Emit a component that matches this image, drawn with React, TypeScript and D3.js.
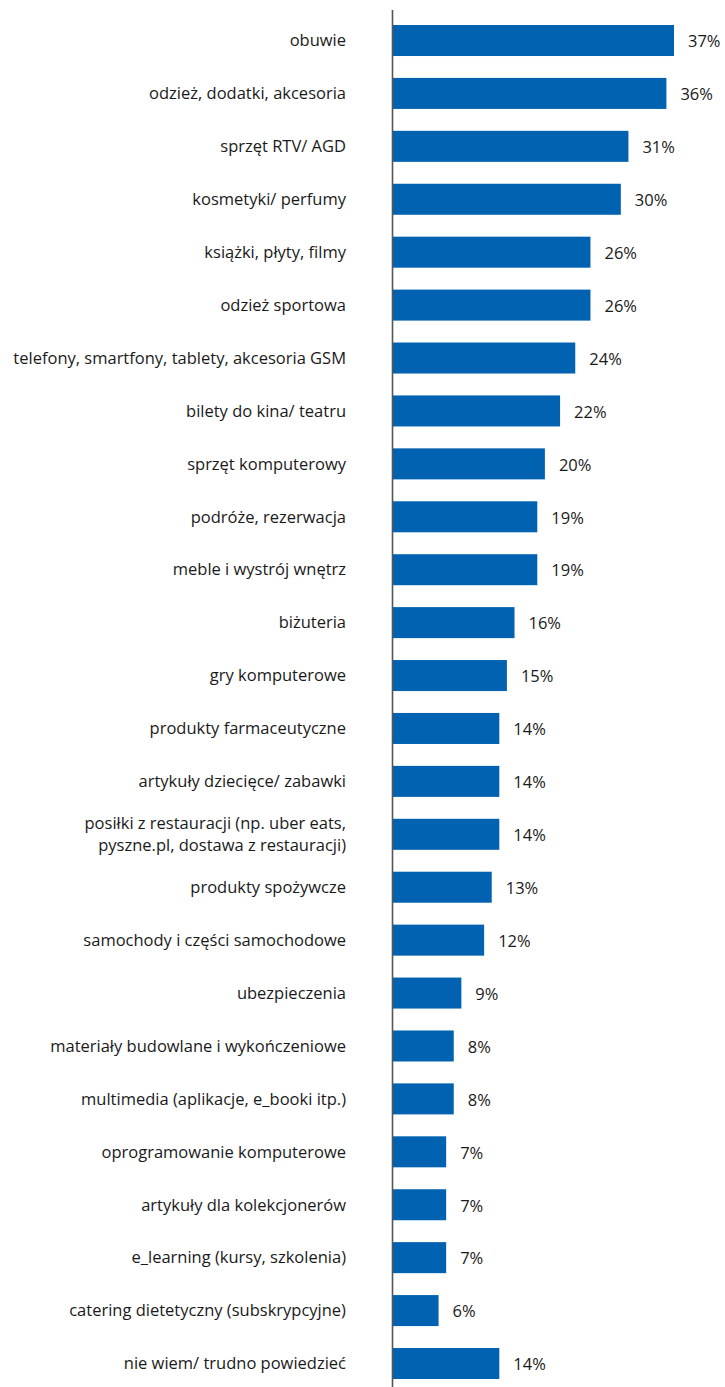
import { useRef, useEffect } from "react";
import * as d3 from "d3";

const categories = [
  "obuwie",
  "odzież, dodatki, akcesoria",
  "sprzęt RTV/ AGD",
  "kosmetyki/ perfumy",
  "książki, płyty, filmy",
  "odzież sportowa",
  "telefony, smartfony, tablety, akcesoria GSM",
  "bilety do kina/ teatru",
  "sprzęt komputerowy",
  "podróże, rezerwacja",
  "meble i wystrój wnętrz",
  "biżuteria",
  "gry komputerowe",
  "produkty farmaceutyczne",
  "artykuły dziecięce/ zabawki",
  "posiłki z restauracji (np. uber eats,\npyszne.pl, dostawa z restauracji)",
  "produkty spożywcze",
  "samochody i części samochodowe",
  "ubezpieczenia",
  "materiały budowlane i wykończeniowe",
  "multimedia (aplikacje, e_booki itp.)",
  "oprogramowanie komputerowe",
  "artykuły dla kolekcjonerów",
  "e_learning (kursy, szkolenia)",
  "catering dietetyczny (subskrypcyjne)",
  "nie wiem/ trudno powiedzieć",
];

const values = [37, 36, 31, 30, 26, 26, 24, 22, 20, 19, 19, 16, 15, 14, 14, 14, 13, 12, 9, 8, 8, 7, 7, 7, 6, 14];

const width = 725;
const height = 1387;

export default function App() {
  const svgRef = useRef<SVGSVGElement>(null);

  useEffect(() => {
    const svg = d3.select(svgRef.current);
    svg.selectAll("*").remove();

    const x0 = 393;
    const x = d3.scaleLinear().domain([0, 37]).range([x0, 674]);
    const y = d3
      .scaleBand<number>()
      .domain(d3.range(categories.length))
      .range([25, 1379])
      .paddingInner(0.414)
      .paddingOuter(0);

    const font = "'Open Sans', sans-serif";

    svg
      .append("g")
      .selectAll("rect")
      .data(values)
      .join("rect")
      .attr("x", x0)
      .attr("y", (_, i) => y(i)!)
      .attr("width", (d) => x(d) - x0)
      .attr("height", y.bandwidth())
      .attr("fill", "#0062b0");

    svg
      .append("line")
      .attr("x1", 392.5)
      .attr("x2", 392.5)
      .attr("y1", 10)
      .attr("y2", height)
      .attr("stroke", "#555")
      .attr("stroke-width", 1.6);

    svg
      .append("g")
      .selectAll("text")
      .data(values)
      .join("text")
      .attr("x", (d) => x(d) + 14)
      .attr("y", (_, i) => y(i)! + y.bandwidth() / 2 + 1)
      .attr("dy", "0.35em")
      .attr("font-family", font)
      .attr("font-size", 16.5)
      .attr("fill", "#1a1a1a")
      .text((d) => `${d}%`);

    const labels = svg
      .append("g")
      .selectAll("text")
      .data(categories)
      .join("text")
      .attr("text-anchor", "end")
      .attr("font-family", font)
      .attr("font-size", 16.5)
      .attr("fill", "#1a1a1a")
      .attr("y", (_, i) => y(i)! + y.bandwidth() / 2);

    labels.each(function (d) {
      const lines = d.split("\n");
      const t = d3.select(this);
      lines.forEach((line, j) => {
        t.append("tspan")
          .attr("x", 346)
          .attr("dy", j === 0 ? `${0.35 - (lines.length - 1) * 0.67}em` : "1.34em")
          .text(line);
      });
    });
  }, []);

  return (
    <svg
      ref={svgRef}
      width={width}
      height={height}
      style={{ position: "absolute", left: 0, top: 0, background: "#fff" }}
    ></svg>
  );
}
